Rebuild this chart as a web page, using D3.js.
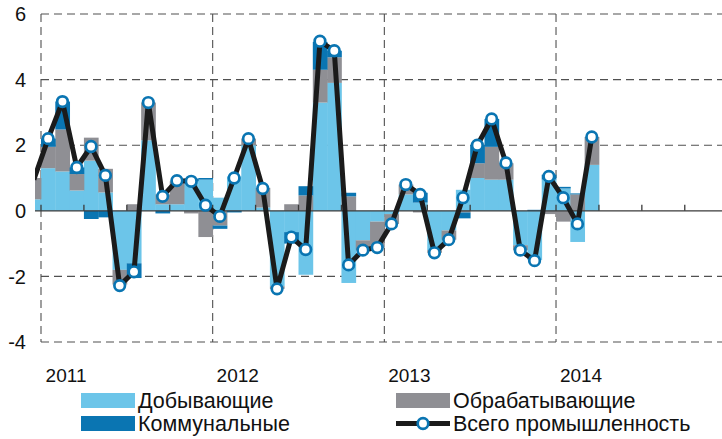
<!DOCTYPE html>
<html>
<head>
<meta charset="utf-8">
<script src="https://cdn.jsdelivr.net/npm/d3@7"></script>
<style>
    body { margin: 0; background: #fff; }
    svg { display: block; font-family: "Liberation Sans", Arial, sans-serif; }
</style>
</head>
<body>
<div class="content"></div>
<script>
(function () {
    'use strict';
    // monthly values, Dec 2010 .. Mar 2014
    var mining = [0.35, 1.30, 1.20, 0.62, 1.53, 0.56, -1.80, -1.60, 2.15, 0.20, 0.20, 0.90, 0.95,
        0.40, 1.05, 2.00, 0.10, -2.30, -0.65, -1.95, 3.30, 3.90, -2.20, -0.90, -0.33,
        -0.10, 0.50, 0.25, -1.20, -0.60, 0.64, 1.00, 0.95, 0.95, -1.05, -1.50, 0.95,
        0.68, -0.95, 1.40];
    var manufacturing = [0.65, 0.65, 1.28, 0.50, 0.70, 0.72, -0.45, 0.20, 1.15, 0.30, 0.70, -0.08, -0.80,
        -0.45, 0.00, 0.20, 0.60, -0.08, 0.20, 0.47, 1.00, 0.78, 0.44, -0.30, -0.80,
        -0.30, 0.30, -0.05, -0.08, -0.28, -0.05, 0.45, 1.00, 0.50, -0.15, 0.00, -0.10,
        -0.33, 0.50, 0.85];
    var utilities = [0.00, 0.25, 0.85, 0.20, -0.25, -0.20, 0.00, -0.45, 0.00, -0.08, 0.00, 0.08, 0.05,
        -0.10, -0.05, 0.00, 0.00, 0.00, -0.35, 0.28, 0.85, 0.20, 0.11, 0.00, 0.00,
        0.00, 0.00, 0.30, 0.00, 0.00, -0.18, 0.55, 0.85, 0.00, 0.00, 0.03, 0.15,
        0.05, 0.03, 0.00];
    var total = [0.95, 2.20, 3.33, 1.32, 1.96, 1.08, -2.28, -1.86, 3.30, 0.44, 0.92, 0.90, 0.17,
        -0.17, 1.00, 2.20, 0.68, -2.38, -0.80, -1.18, 5.17, 4.88, -1.65, -1.20, -1.12,
        -0.40, 0.80, 0.50, -1.28, -0.88, 0.40, 2.00, 2.80, 1.46, -1.20, -1.52, 1.05,
        0.40, -0.40, 2.25];
    var years = ['2011', '2012', '2013', '2014'];
    var yTicks = [-4, -2, 0, 2, 4, 6];
    var legendItems = ['Добывающие', 'Обрабатывающие', 'Коммунальные', 'Всего промышленность'];

    var colors = {
        mining: '#6cc5e9',
        manufacturing: '#8f8f94',
        utilities: '#0a75b2',
        line: '#1b1b1b'
    };

    var W = 722, H = 439,
        plotLeft = 35, gridLeft = 41, right = 722, top = 14, bottom = 342;

    // x in months, 0 = start of Jan 2011
    var x = d3.scaleLinear().domain([0, 48]).range([gridLeft, gridLeft + 48 * 14.306]);
    var y = d3.scaleLinear().domain([-4, 6]).range([bottom, top]);

    var rows = total.map(function (t, i) {
        return {m: i - 1, mining: mining[i], manufacturing: manufacturing[i], utilities: utilities[i], total: t};
    });

    var svg = d3.select('.content').append('svg').attr('width', W).attr('height', H);

    svg.append('clipPath').attr('id', 'plotClip')
        .append('rect').attr('x', plotLeft).attr('y', 0).attr('width', right - plotLeft).attr('height', H);

    // grid
    var grid = svg.append('g').attr('stroke', '#505050').attr('stroke-dasharray', '8,5').attr('stroke-width', 1.1);
    yTicks.filter(function (v) { return v !== 0; }).forEach(function (v) {
        grid.append('line').attr('x1', gridLeft).attr('x2', right).attr('y1', y(v)).attr('y2', y(v));
    });
    years.forEach(function (yr, k) {
        grid.append('line').attr('x1', x(k * 12)).attr('x2', x(k * 12)).attr('y1', top).attr('y2', bottom);
    });

    // stacked bars
    var stack = d3.stack().keys(['mining', 'manufacturing', 'utilities']).offset(d3.stackOffsetDiverging);
    var series = stack(rows);
    var bars = svg.append('g').attr('clip-path', 'url(#plotClip)');
    bars.selectAll('g').data(series).enter().append('g')
        .attr('fill', function (d) { return colors[d.key]; })
        .selectAll('rect').data(function (d) { return d; }).enter().append('rect')
        .attr('x', function (d) { return x(d.data.m); })
        .attr('width', x(1) - x(0) + 0.4)
        .attr('y', function (d) { return y(Math.max(d[0], d[1])); })
        .attr('height', function (d) { return Math.abs(y(d[0]) - y(d[1])); });

    // zero axis with quarterly ticks
    var axis = svg.append('g').attr('stroke', '#3a3a3a').attr('stroke-width', 1.3);
    axis.append('line').attr('x1', plotLeft).attr('x2', right).attr('y1', y(0)).attr('y2', y(0));
    d3.range(0, 48, 3).forEach(function (m) {
        axis.append('line').attr('x1', x(m)).attr('x2', x(m)).attr('y1', y(0)).attr('y2', y(0) - 6);
    });

    // total line
    var line = d3.line()
        .x(function (d) { return x(d.m + 0.5); })
        .y(function (d) { return y(d.total); });
    var lineG = svg.append('g').attr('clip-path', 'url(#plotClip)');
    lineG.append('path').datum(rows).attr('d', line)
        .attr('fill', 'none').attr('stroke', colors.line).attr('stroke-width', 5)
        .attr('stroke-linejoin', 'round');
    lineG.selectAll('circle').data(rows.filter(function (d) { return d.m >= 0; })).enter().append('circle')
        .attr('cx', function (d) { return x(d.m + 0.5); })
        .attr('cy', function (d) { return y(d.total); })
        .attr('r', 5.3)
        .attr('fill', '#fff').attr('stroke', colors.utilities).attr('stroke-width', 2.7);

    // y labels
    svg.append('g').selectAll('text').data(yTicks).enter().append('text')
        .attr('x', 26).attr('y', function (d) { return y(d); })
        .attr('dy', '0.36em').attr('text-anchor', 'end')
        .attr('font-size', '20px').attr('fill', '#111')
        .text(function (d) { return d; });

    // year labels
    svg.append('g').selectAll('text').data(years).enter().append('text')
        .attr('x', function (d, k) { return x(k * 12 + 1.75); })
        .attr('y', 382).attr('text-anchor', 'middle')
        .attr('font-size', '19px').attr('fill', '#111')
        .text(function (d) { return d; });

    // legend
    var leg = svg.append('g').attr('font-size', '21.5px').attr('fill', '#111');
    function swatch(lx, ly, color, label) {
        leg.append('rect').attr('x', lx).attr('y', ly).attr('width', 54).attr('height', 15).attr('fill', color);
        leg.append('text').attr('x', lx + 57).attr('y', ly + 15).text(label);
    }
    swatch(81, 393, colors.mining, legendItems[0]);
    swatch(396, 393, colors.manufacturing, legendItems[1]);
    swatch(81, 416, colors.utilities, legendItems[2]);
    leg.append('line').attr('x1', 396).attr('x2', 450).attr('y1', 423.5).attr('y2', 423.5)
        .attr('stroke', colors.line).attr('stroke-width', 5);
    leg.append('circle').attr('cx', 423).attr('cy', 423.5).attr('r', 5.3)
        .attr('fill', '#fff').attr('stroke', colors.utilities).attr('stroke-width', 2.7);
    leg.append('text').attr('x', 453).attr('y', 431).text(legendItems[3]);
}());
</script>
</body>
</html>
